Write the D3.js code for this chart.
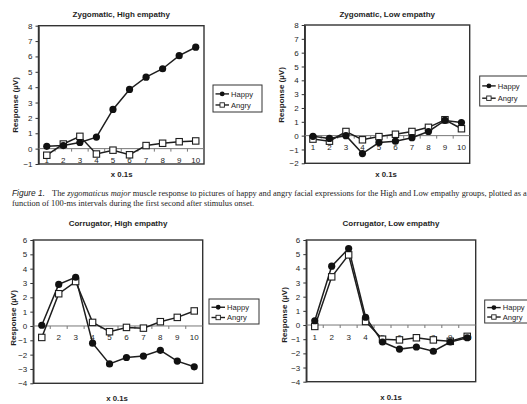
<!DOCTYPE html>
<html>
<head>
<meta charset="utf-8">
<script src="https://cdn.jsdelivr.net/npm/d3@7"></script>
<style>
  html, body { margin: 0; padding: 0; background: #fff; }
  svg { display: block; }
</style>
</head>
<body>
<svg id="fig" width="527" height="404"></svg>
<script>
// Time bins (x 0.1 s after stimulus onset)
const categories = ["1", "2", "3", "4", "5", "6", "7", "8", "9", "10"];
const seriesNames = ["Happy", "Angry"];

// Zygomatic major, high empathy group (µV)
const zygHighHappy = [0.15, 0.2, 0.4, 0.75, 2.55, 3.85, 4.65, 5.2, 6.05, 6.6];
const zygHighAngry = [-0.43, 0.3, 0.8, -0.35, -0.1, -0.4, 0.2, 0.35, 0.45, 0.5];

// Zygomatic major, low empathy group (µV)
const zygLowHappy = [-0.05, -0.2, 0.0, -1.3, -0.5, -0.4, -0.15, 0.3, 1.1, 0.95];
const zygLowAngry = [-0.25, -0.4, 0.3, -0.3, -0.07, 0.1, 0.3, 0.6, 1.15, 0.5];

// Corrugator, high empathy group (µV)
const corHighHappy = [0.05, 2.9, 3.4, -1.2, -2.65, -2.2, -2.1, -1.7, -2.45, -2.85];
const corHighAngry = [-0.8, 2.25, 3.1, 0.25, -0.4, -0.1, -0.15, 0.3, 0.6, 1.05];

// Corrugator, low empathy group (µV)
const corLowHappy = [0.3, 4.15, 5.4, 0.55, -1.2, -1.7, -1.55, -1.85, -1.2, -0.9];
const corLowAngry = [-0.1, 3.4, 4.95, 0.25, -1.0, -1.05, -0.9, -1.05, -1.15, -0.8];

// Y tick labels for each muscle
const zygHighTicks = [-1, 0, 1, 2, 3, 4, 5, 6, 7, 8];
const zygLowTicks = [-2, -1, 0, 1, 2, 3, 4, 5, 6, 7, 8];
const corTicks = [-4, -3, -2, -1, 0, 1, 2, 3, 4, 5, 6];

const captionLine1 = ["Figure 1.", "The ", "zygomaticus major", " muscle response to pictures of happy and angry facial expressions for the High and Low empathy groups, plotted as a"];
const captionLine2 = "function of 100-ms intervals during the first second after stimulus onset.";

const panels = [
  { title: "Zygomatic, High empathy", happy: zygHighHappy, angry: zygHighAngry, ticks: zygHighTicks,
    box: { x0: 38.5, x1: 204, y0: 25.7, y1: 164 }, titleY: 13.5, xTitle: [121.7, 173.5], yTitle: [15, 105],
    legend: { x: 213, y: 85, w: 49, h: 27 } },
  { title: "Zygomatic, Low empathy", happy: zygLowHappy, angry: zygLowAngry, ticks: zygLowTicks,
    box: { x0: 304.7, x1: 469.7, y0: 25, y1: 163.3 }, titleY: 13.5, xTitle: [386, 173.5], yTitle: [281, 95],
    legend: { x: 479.7, y: 76, w: 50, h: 30 } },
  { title: "Corrugator, High empathy", happy: corHighHappy, angry: corHighAngry, ticks: corTicks,
    box: { x0: 33.3, x1: 202.7, y0: 240, y1: 383.3 }, titleY: 222.5, xTitle: [117, 398], yTitle: [13, 318],
    legend: { x: 209, y: 299, w: 50, h: 25 } },
  { title: "Corrugator, Low empathy", happy: corLowHappy, angry: corLowAngry, ticks: corTicks,
    box: { x0: 306.3, x1: 475.7, y0: 240, y1: 381.7 }, titleY: 222.5, xTitle: [391, 397], yTitle: [283.7, 315],
    legend: { x: 484.7, y: 300, w: 50, h: 23 } }
];

const svg = d3.select("#fig");
const ink = "#1e1e1e";
const sans = "Liberation Sans, Arial, sans-serif";
const serif = "Liberation Serif, Times New Roman, serif";

function drawPanel(p) {
  const g = svg.append("g");
  const b = p.box;
  const x = d3.scaleBand().domain(categories).range([b.x0, b.x1]);
  const y = d3.scaleLinear().domain(d3.extent(p.ticks)).range([b.y1, b.y0]);
  const cx = c => x(c) + x.bandwidth() / 2;

  // plot frame
  g.append("rect")
    .attr("x", b.x0).attr("y", b.y0)
    .attr("width", b.x1 - b.x0).attr("height", b.y1 - b.y0)
    .attr("fill", "none").attr("stroke", "#333").attr("stroke-width", 1.4);

  // value axis
  const yAxis = d3.axisLeft(y).tickValues(p.ticks).tickSize(3).tickSizeOuter(0).tickPadding(3);
  const ya = g.append("g").attr("transform", `translate(${b.x0},0)`).call(yAxis);
  ya.select(".domain").attr("stroke", "#333").attr("stroke-width", 1.4);
  ya.selectAll(".tick line").attr("stroke", "#333");
  ya.selectAll(".tick text").attr("font-family", sans).attr("font-size", 8).attr("fill", ink);

  // category axis along zero
  const y0 = y(0);
  g.append("line")
    .attr("x1", b.x0).attr("x2", b.x1).attr("y1", y0).attr("y2", y0)
    .attr("stroke", "#777").attr("stroke-width", 1);
  const edges = categories.slice(1).map(c => x(c));
  g.selectAll(".ctick").data(edges).join("line")
    .attr("x1", d => d).attr("x2", d => d)
    .attr("y1", y0).attr("y2", y0 + 3)
    .attr("stroke", "#777");
  g.selectAll(".clabel").data(categories).join("text")
    .attr("x", d => cx(d)).attr("y", y0 + 14.5)
    .attr("text-anchor", "middle")
    .attr("font-family", sans).attr("font-size", 8).attr("fill", ink)
    .text(d => d);

  // series lines
  const line = d3.line().x((d, i) => cx(categories[i])).y(d => y(d));
  [p.angry, p.happy].forEach(vals => {
    g.append("path").datum(vals)
      .attr("d", line).attr("fill", "none")
      .attr("stroke", ink).attr("stroke-width", 1.5);
  });

  // Angry markers: open squares
  g.selectAll(".angry").data(p.angry).join("rect")
    .attr("x", (d, i) => cx(categories[i]) - 3.2)
    .attr("y", d => y(d) - 3.2)
    .attr("width", 6.4).attr("height", 6.4)
    .attr("fill", "#fff").attr("stroke", ink).attr("stroke-width", 1.1);

  // Happy markers: filled circles
  g.selectAll(".happy").data(p.happy).join("circle")
    .attr("cx", (d, i) => cx(categories[i]))
    .attr("cy", d => y(d))
    .attr("r", 3.6).attr("fill", "#111");

  // titles
  g.append("text")
    .attr("x", (b.x0 + b.x1) / 2 + 0).attr("y", p.titleY + 3)
    .attr("text-anchor", "middle")
    .attr("font-family", sans).attr("font-weight", "bold").attr("font-size", 8).attr("fill", ink)
    .text(p.title);
  g.append("text")
    .attr("x", p.xTitle[0]).attr("y", p.xTitle[1] + 3)
    .attr("text-anchor", "middle")
    .attr("font-family", sans).attr("font-weight", "bold").attr("font-size", 7.8).attr("fill", ink)
    .text("x 0.1s");
  g.append("text")
    .attr("transform", `translate(${p.yTitle[0] + 3},${p.yTitle[1]}) rotate(-90)`)
    .attr("text-anchor", "middle")
    .attr("font-family", sans).attr("font-weight", "bold").attr("font-size", 8).attr("fill", ink)
    .text("Response (µV)");

  // legend
  const L = p.legend;
  const lg = g.append("g").attr("transform", `translate(${L.x},${L.y})`);
  lg.append("rect").attr("width", L.w).attr("height", L.h)
    .attr("fill", "#fff").attr("stroke", "#333").attr("stroke-width", 1);
  const rowY = [L.h * 0.33, L.h * 0.74];
  seriesNames.forEach((name, i) => {
    const ry = rowY[i];
    lg.append("line").attr("x1", 2.5).attr("x2", 16).attr("y1", ry).attr("y2", ry)
      .attr("stroke", ink).attr("stroke-width", 1.4);
    if (name === "Happy") {
      lg.append("circle").attr("cx", 9.2).attr("cy", ry).attr("r", 2.4).attr("fill", "#111");
    } else {
      lg.append("rect").attr("x", 7).attr("y", ry - 2.2).attr("width", 4.4).attr("height", 4.4)
        .attr("fill", "#fff").attr("stroke", ink).attr("stroke-width", 0.9);
    }
    lg.append("text").attr("x", 18).attr("y", ry + 2.7)
      .attr("font-family", sans).attr("font-size", 7.6).attr("fill", ink)
      .text(name);
  });
}

panels.forEach(drawPanel);

// figure caption
const cap = svg.append("text").attr("x", 12).attr("y", 195.5)
  .attr("font-size", 8.4).attr("fill", "#222");
cap.append("tspan").attr("font-family", sans).attr("font-style", "italic").text(captionLine1[0]);
cap.append("tspan").attr("font-family", serif).attr("dx", 7).text(captionLine1[1]);
cap.append("tspan").attr("font-family", serif).attr("font-style", "italic").text(captionLine1[2]);
cap.append("tspan").attr("font-family", serif).text(captionLine1[3]);
svg.append("text").attr("x", 12).attr("y", 205.5)
  .attr("font-family", serif).attr("font-size", 8.4).attr("fill", "#222")
  .text(captionLine2);
</script>
</body>
</html>
